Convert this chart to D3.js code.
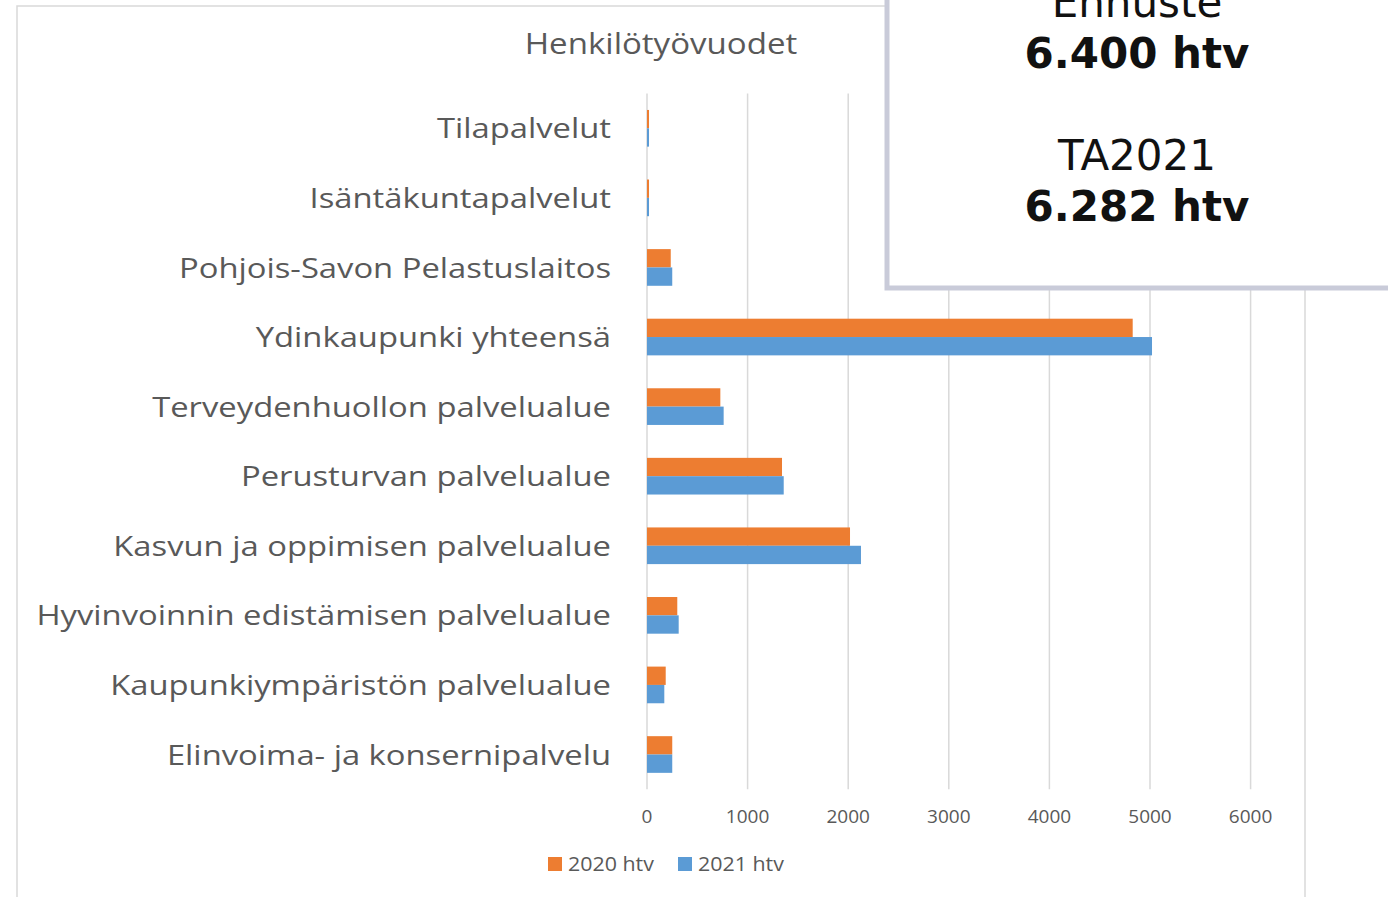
<!DOCTYPE html>
<html><head><meta charset="utf-8">
<script src="https://cdn.jsdelivr.net/npm/d3@7"></script>
<style>body{margin:0;background:#fff;} svg{display:block;}</style>
</head><body>
<svg id="c" width="1388" height="897"></svg>
<script>
const categories = ["Tilapalvelut","Isäntäkuntapalvelut","Pohjois-Savon Pelastuslaitos","Ydinkaupunki yhteensä","Terveydenhuollon palvelualue","Perusturvan palvelualue","Kasvun ja oppimisen palvelualue","Hyvinvoinnin edistämisen palvelualue","Kaupunkiympäristön palvelualue","Elinvoima- ja konsernipalvelu"];
const series = ["2020 htv","2021 htv"];
const values2020 = [20, 20, 236, 4828, 729, 1342, 2018, 301, 186, 251];
const values2021 = [20, 20, 251, 5020, 762, 1359, 2127, 315, 172, 251];
const xTicks = [0,1000,2000,3000,4000,5000,6000];
const title = "Henkilötyövuodet";
const boxLines = [["Ennuste", false], ["6.400 htv", true], ["", false], ["TA2021", false], ["6.282 htv", true]];

const colors = {"2020 htv":"#ED7D31","2021 htv":"#5B9BD5"};
const textGray = "#595959";
const svg = d3.select("#c");

// chart border
svg.append("rect").attr("x",17).attr("y",6).attr("width",1288).attr("height",900)
  .attr("fill","none").attr("stroke","#d9d9d9").attr("stroke-width",1.5);

const x = d3.scaleLinear().domain([0,6500]).range([647, 647+6.5*100.6]);
const y = d3.scaleBand().domain(categories).range([93.5, 789.3]).paddingInner(0.473).paddingOuter(0.2365);
const ySub = d3.scaleBand().domain(series).range([0, y.bandwidth()]);

// gridlines
svg.append("g").selectAll("line").data(xTicks).join("line")
  .attr("x1",d=>x(d)).attr("x2",d=>x(d)).attr("y1",93.5).attr("y2",789.3)
  .attr("stroke","#d9d9d9").attr("stroke-width",1.5);

// tick labels
svg.append("g").selectAll("text").data(xTicks).join("text")
  .attr("x",d=>x(d)).attr("y",816).attr("dy","0.35em").attr("text-anchor","middle")
  .attr("font-family","Open Sans").attr("font-size",19).attr("fill",textGray)
  .text(d=>d);

// bars
const rows = categories.map((c,i)=>({cat:c, vals:[{s:series[0],v:values2020[i]},{s:series[1],v:values2021[i]}]}));
const gRows = svg.append("g").selectAll("g").data(rows).join("g")
  .attr("transform",d=>`translate(0,${y(d.cat)})`);
gRows.selectAll("rect").data(d=>d.vals).join("rect")
  .attr("x",x(0)).attr("y",d=>ySub(d.s)).attr("width",d=>x(d.v)-x(0)).attr("height",ySub.bandwidth())
  .attr("fill",d=>colors[d.s]);

// category labels (horizontally stretched like the reference)
svg.append("g").selectAll("g").data(categories).join("g")
  .attr("transform",d=>`translate(611,${y(d)+y.bandwidth()/2}) scale(1.17,1)`)
  .append("text").attr("x",0).attr("y",0).attr("dy","0.36em").attr("text-anchor","end")
  .attr("font-family","Open Sans").attr("font-size",28).attr("fill",textGray)
  .text(d=>d);

// title
svg.append("g").attr("transform","translate(661,54) scale(1.14,1)")
  .append("text").attr("x",0).attr("y",0).attr("text-anchor","middle")
  .attr("font-family","Open Sans").attr("font-size",29).attr("fill",textGray).text(title);

// legend
const leg = svg.append("g").attr("transform","translate(548,864)");
const legX = [0,130];
series.forEach((s,i)=>{
  leg.append("rect").attr("x",legX[i]).attr("y",-7).attr("width",14).attr("height",14).attr("fill",colors[s]);
  leg.append("g").attr("transform",`translate(${legX[i]+20},0) scale(1.07,1)`)
    .append("text").attr("x",0).attr("y",0).attr("dy","0.35em")
    .attr("font-family","Open Sans").attr("font-size",20).attr("fill",textGray).text(s);
});

// info box
svg.append("rect").attr("x",887).attr("y",-10).attr("width",510).attr("height",298)
  .attr("fill","#fff").attr("stroke","#c9cbd9").attr("stroke-width",5);
const baselines = [17, 68, 119, 170, 221];
boxLines.forEach((l,i)=>{
  svg.append("text").attr("x",1137).attr("y",baselines[i]).attr("text-anchor","middle")
    .attr("font-family","DejaVu Sans").attr("font-size",42).attr("font-weight",l[1]?"bold":"normal")
    .attr("fill","#111").text(l[0]);
});
</script>
</body></html>
